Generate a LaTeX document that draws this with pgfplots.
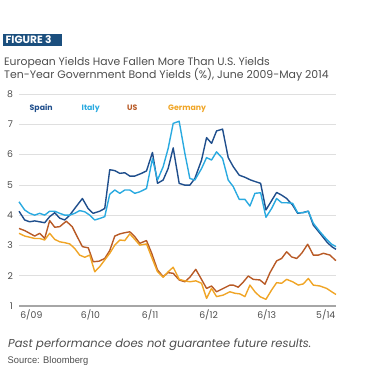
\documentclass[border=0pt]{standalone}
\usepackage{pgfplots}
\pgfplotsset{compat=1.18}
\usepackage{fontspec}
\setmainfont{Poppins}
\newfontfamily\srcfont[FakeStretch=0.97]{Liberation Sans}
\definecolor{figblue}{HTML}{1B4F7E}
\definecolor{spain}{HTML}{1F4E8C}
\definecolor{italy}{HTML}{2AAAE0}
\definecolor{us}{HTML}{B85A26}
\definecolor{germany}{HTML}{F0A526}
\definecolor{txt}{HTML}{4D4D4D}
\begin{document}
\begin{tikzpicture}[x=1pt,y=1pt]
\useasboundingbox (0,0) rectangle (377,369);
\fill[figblue] (3.3,323.3) rectangle (61.5,334.7);
\node[anchor=base west,inner sep=0,text=white,font=\bfseries\fontsize{10.6}{12}\selectfont] at (5.5,325.8) {FIGURE 3};
\node[anchor=base west,inner sep=0,text=txt,font=\fontsize{10.8}{11}\selectfont] at (4,303.3) {European Yields Have Fallen More Than U.S. Yields};
\node[anchor=base west,inner sep=0,text=txt,font=\fontsize{10.9}{11}\selectfont] at (4,290) {Ten-Year Government Bond Yields (\%), June 2009-May 2014};
\node[anchor=base west,inner sep=0,text=txt,font=\itshape\fontsize{11.5}{12}\selectfont] at (8,21.3) {Past performance does not guarantee future results.};
\node[anchor=base west,inner sep=0,text=txt,font=\srcfont\fontsize{9.6}{10}\selectfont] at (7.5,5.7) {Source: Bloomberg};
\begin{axis}[
  at={(19pt,63pt)}, anchor=south west,
  scale only axis, width=317pt, height=212pt,
  xmin=0, xmax=59, ymin=1, ymax=8,
  axis x line*=bottom, axis y line*=left,
  x axis line style={draw=gray!70, line width=1.3pt, -},
  y axis line style={draw=none},
  ytick={1,...,8}, xtick={2.3,13.3,24.4,35.3,46.1,57.1},
  xticklabels={6/09,6/10,6/11,6/12,6/13,5/14},
  major tick length=0pt,
  ymajorgrids, grid style={draw=gray!25, line width=0.6pt},
  /pgf/number format/assume math mode=true,
  tick label style={text=txt, font=\fontsize{9.3}{10}\selectfont},
  yticklabel style={anchor=east, xshift=-2.5pt},
  xticklabel style={yshift=-0.5pt},
  clip=false,
  every axis plot/.append style={line width=1.4pt, line join=round, mark=none},
]
\addplot[spain] coordinates {(0,4.13) (1.06,3.84) (1.99,3.78) (2.92,3.81) (3.85,3.78) (4.78,3.75) (5.71,3.95) (6.65,4.08) (7.58,3.9) (8.51,3.84) (9.44,4.0) (10.37,4.22) (11.8,4.55) (12.86,4.22) (13.79,4.06) (15.03,4.13) (15.96,4.22) (16.89,5.5) (17.83,5.47) (18.76,5.38) (19.69,5.4) (20.62,5.29) (21.55,5.29) (22.8,5.38) (23.73,5.46) (24.84,6.07) (25.78,5.05) (26.83,5.16) (27.76,5.54) (28.7,6.22) (29.81,5.05) (30.87,4.99) (31.8,4.99) (32.73,5.21) (33.98,5.82) (34.91,6.56) (35.84,6.37) (36.77,6.78) (37.89,6.84) (38.94,5.9) (39.88,5.6) (40.99,5.32) (42.05,5.25) (43.11,5.16) (44.1,5.1) (44.97,5.05) (45.96,4.17) (47.02,4.48) (47.95,4.75) (48.88,4.66) (49.81,4.55) (50.93,4.33) (51.86,4.06) (52.92,4.09) (53.85,4.13) (54.78,3.67) (56.02,3.4) (57.27,3.12) (58.2,2.96) (59,2.87)};
\addplot[italy] coordinates {(0,4.44) (1.06,4.17) (1.99,4.06) (2.92,4.0) (3.85,4.06) (4.78,4.0) (5.71,4.13) (6.65,4.13) (7.58,4.06) (8.51,4.0) (9.44,4.0) (10.37,4.06) (11.3,4.15) (12.24,4.11) (13.17,4.0) (14.1,3.84) (15.03,3.89) (15.96,3.95) (16.89,4.69) (17.83,4.83) (18.76,4.72) (19.69,4.83) (20.62,4.83) (21.55,4.72) (22.48,4.77) (23.73,4.88) (24.84,5.87) (25.78,5.16) (26.83,5.6) (27.76,6.2) (28.7,7.03) (29.81,7.1) (30.87,6.04) (31.8,5.21) (32.73,5.16) (33.98,5.54) (34.91,5.9) (35.84,5.82) (36.77,6.09) (37.89,5.87) (38.94,5.16) (39.88,4.94) (40.99,4.52) (42.05,4.52) (42.98,4.3) (43.91,4.72) (44.97,4.74) (45.96,3.93) (47.02,4.22) (47.95,4.55) (48.88,4.41) (49.81,4.41) (50.93,4.39) (51.86,4.08) (52.92,4.08) (53.85,4.13) (54.78,3.73) (56.02,3.45) (57.27,3.2) (58.2,3.04) (59,2.96)};
\addplot[us] coordinates {(0,3.56) (1.06,3.49) (1.99,3.4) (2.92,3.31) (3.85,3.4) (4.78,3.23) (5.71,3.82) (6.65,3.6) (7.58,3.62) (8.8,3.8) (9.9,3.62) (10.8,3.3) (11.8,2.96) (12.9,2.92) (13.8,2.46) (14.9,2.48) (15.96,2.57) (16.89,2.83) (17.83,3.31) (18.76,3.38) (19.69,3.42) (20.62,3.45) (21.55,3.29) (22.48,3.07) (23.73,3.16) (24.7,2.74) (25.78,2.19) (26.83,1.97) (27.76,2.1) (28.7,2.08) (29.81,1.86) (30.87,1.8) (31.8,1.95) (32.9,2.21) (33.9,1.9) (34.91,1.58) (35.84,1.66) (36.77,1.47) (38.01,1.58) (39.25,1.69) (39.88,1.69) (40.81,1.62) (41.74,1.79) (42.67,1.99) (43.6,1.88) (44.84,1.86) (45.78,1.72) (46.71,2.1) (47.95,2.49) (48.88,2.57) (49.81,2.79) (50.75,2.62) (51.68,2.57) (52.61,2.74) (53.73,3.04) (54.78,2.68) (55.71,2.68) (56.65,2.74) (57.89,2.68) (58.82,2.52) (59,2.5)};
\addplot[germany] coordinates {(0,3.4) (1.06,3.31) (1.99,3.27) (2.92,3.23) (3.85,3.23) (4.78,3.18) (5.71,3.4) (6.65,3.2) (7.58,3.12) (8.51,3.09) (9.44,3.05) (10.37,2.9) (11.3,2.68) (12.24,2.61) (13.17,2.68) (14.1,2.13) (15.03,2.3) (15.96,2.52) (16.89,2.74) (17.83,3.01) (18.76,3.18) (19.69,3.16) (20.62,3.38) (21.55,3.2) (22.48,3.01) (23.73,3.05) (24.65,2.63) (25.78,2.13) (26.83,1.95) (27.76,2.13) (28.7,2.28) (29.81,1.88) (30.87,1.83) (31.8,1.8) (32.92,1.83) (33.98,1.75) (34.91,1.25) (35.84,1.58) (36.77,1.31) (38.01,1.36) (39.25,1.47) (40.19,1.42) (41.12,1.4) (42.05,1.31) (42.98,1.69) (43.91,1.47) (44.84,1.31) (45.96,1.22) (47.02,1.53) (47.95,1.77) (48.88,1.75) (49.81,1.88) (50.93,1.8) (51.99,1.69) (52.92,1.73) (53.85,1.91) (54.78,1.69) (56.02,1.66) (57.27,1.58) (58.2,1.47) (59,1.38)};
\end{axis}
\node[anchor=base west,inner sep=0,text=spain,font=\bfseries\fontsize{7.8}{8}\selectfont] at (29.5,258.3) {Spain};
\node[anchor=base west,inner sep=0,text=italy,font=\bfseries\fontsize{7.8}{8}\selectfont] at (81.5,258.3) {Italy};
\node[anchor=base west,inner sep=0,text=us,font=\bfseries\fontsize{7.8}{8}\selectfont] at (127,258.3) {US};
\node[anchor=base west,inner sep=0,text=germany,font=\bfseries\fontsize{7.8}{8}\selectfont] at (168,258.3) {Germany};
\end{tikzpicture}
\end{document}
